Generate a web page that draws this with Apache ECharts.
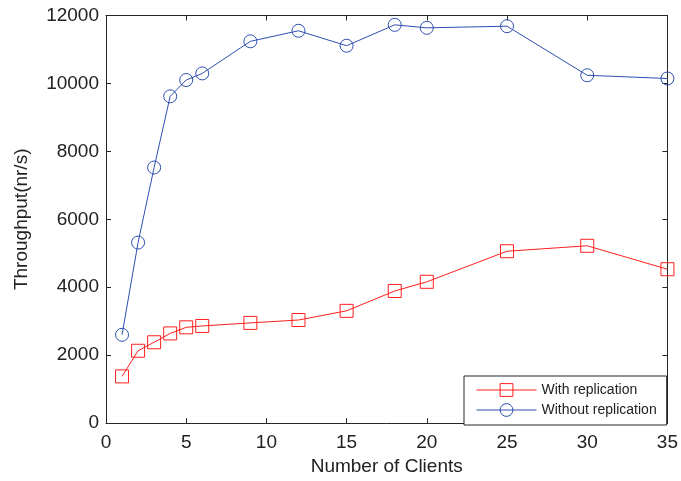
<!DOCTYPE html>
<html>
<head>
<meta charset="utf-8">
<script src="https://cdn.jsdelivr.net/npm/echarts@6/dist/echarts.min.js"></script>
<style>html,body{margin:0;padding:0;background:#fff;}#c{width:681px;height:481px;}</style>
</head>
<body>
<div id="c"></div>
<script>
var clients = [1, 2, 3, 4, 5, 6, 9, 12, 15, 18, 20, 25, 30, 35];
var withReplication = [1375, 2130, 2380, 2640, 2820, 2860, 2950, 3035, 3305, 3890, 4160, 5060, 5220, 4530];
var withoutReplication = [2600, 5315, 7525, 9620, 10100, 10295, 11240, 11550, 11110, 11725, 11637, 11685, 10240, 10145];
var seriesNames = ['With replication', 'Without replication'];

var FONT = '"Liberation Sans", Arial, Helvetica, sans-serif';
var axisColor = '#262626';
var red = '#ff1f1f';
var blue = '#2f4fb0';

function pairs(xs, ys) { return xs.map(function (x, i) { return [x, ys[i]]; }); }

var chart = echarts.init(document.getElementById('c'), null, {renderer: 'canvas'});
chart.setOption({
  animation: false,
  backgroundColor: '#fff',
  grid: {left: 106, right: 13, top: 15.5, bottom: 53.5, containLabel: false},
  legend: {
    data: seriesNames,
    orient: 'vertical',
    left: 464, top: 376,
    itemWidth: 60, itemHeight: 16, itemGap: 6,
    padding: [7, 10, 8, 12],
    borderColor: axisColor, borderWidth: 1,
    backgroundColor: '#fff',
    itemStyle: {borderWidth: 1},
    lineStyle: {width: 1},
    textStyle: {fontFamily: FONT, fontSize: 14, color: '#222'}
  },
  xAxis: [{
    type: 'value', min: 0, max: 35, interval: 5,
    name: 'Number of Clients', nameLocation: 'middle', nameGap: 32,
    nameTextStyle: {fontFamily: FONT, fontSize: 19, color: '#222'},
    axisLine: {show: true, onZero: false, lineStyle: {color: axisColor, width: 1}},
    axisTick: {show: true, inside: true, length: 5, lineStyle: {color: axisColor}},
    axisLabel: {fontFamily: FONT, fontSize: 19, color: '#222', margin: 10},
    splitLine: {show: false}
  }, {
    type: 'value', min: 0, max: 35, interval: 5, position: 'top',
    axisLine: {show: true, onZero: false, lineStyle: {color: axisColor, width: 1}},
    axisTick: {show: true, inside: true, length: 5, lineStyle: {color: axisColor}},
    axisLabel: {show: false}, splitLine: {show: false}
  }],
  yAxis: [{
    type: 'value', min: 0, max: 12000, interval: 2000,
    name: 'Throughput(nr/s)', nameLocation: 'middle', nameGap: 75,
    nameTextStyle: {fontFamily: FONT, fontSize: 19, color: '#222'},
    axisLine: {show: true, onZero: false, lineStyle: {color: axisColor, width: 1}},
    axisTick: {show: true, inside: true, length: 5, lineStyle: {color: axisColor}},
    axisLabel: {fontFamily: FONT, fontSize: 19, color: '#222', margin: 7,
      formatter: function (v) { return String(v); }},
    splitLine: {show: false}
  }, {
    type: 'value', min: 0, max: 12000, interval: 2000, position: 'right',
    axisLine: {show: true, onZero: false, lineStyle: {color: axisColor, width: 1}},
    axisTick: {show: true, inside: true, length: 5, lineStyle: {color: axisColor}},
    axisLabel: {show: false}, splitLine: {show: false}
  }],
  series: [{
    name: seriesNames[0], type: 'line',
    data: pairs(clients, withReplication),
    symbol: 'rect', symbolSize: 13,
    itemStyle: {color: 'rgba(0,0,0,0)', borderColor: red, borderWidth: 1},
    lineStyle: {color: red, width: 1}
  }, {
    name: seriesNames[1], type: 'line',
    data: pairs(clients, withoutReplication),
    symbol: 'circle', symbolSize: 13,
    itemStyle: {color: 'rgba(0,0,0,0)', borderColor: blue, borderWidth: 1},
    lineStyle: {color: blue, width: 1}
  }]
});
</script>
</body>
</html>
